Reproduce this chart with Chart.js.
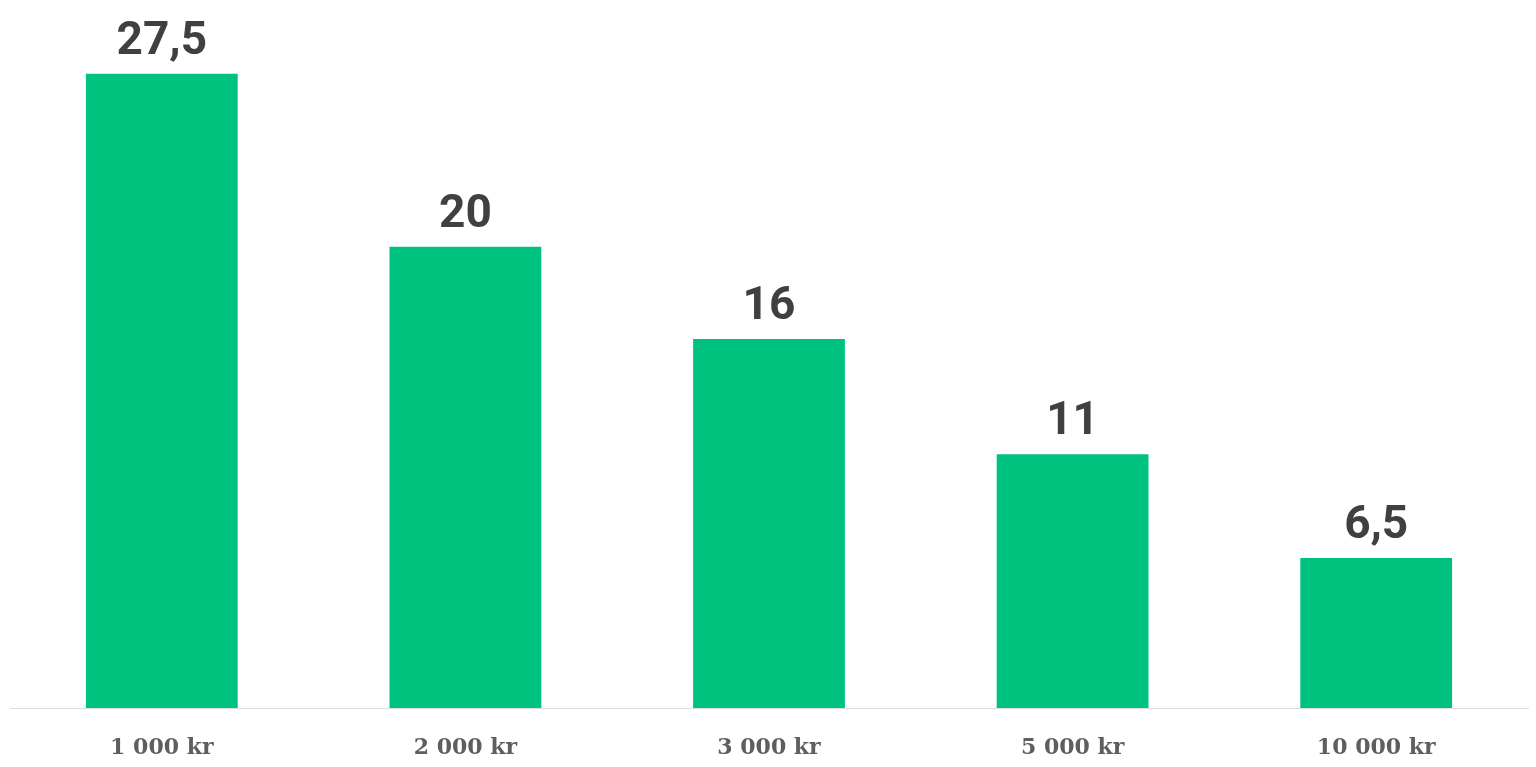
<!DOCTYPE html>
<html>
<head>
<meta charset="utf-8">
<script src="https://cdn.jsdelivr.net/npm/chart.js@4/dist/chart.umd.min.js"></script>
<style>
  html, body { margin: 0; padding: 0; background: #fff; }
  #wrap { width: 1536px; height: 767px; position: relative; }
</style>
</head>
<body>
<div id="wrap"><canvas id="barChart"></canvas></div>
<script>
const categories = ['1 000 kr', '2 000 kr', '3 000 kr', '5 000 kr', '10 000 kr'];
const values = [27.5, 20, 16, 11, 6.5];

// Draws the value above each bar, with a comma as decimal mark
const valueLabels = {
    id: 'valueLabels',
    afterDatasetsDraw(chart) {
        const ctx = chart.ctx;
        const meta = chart.getDatasetMeta(0);
        ctx.save();
        ctx.font = 'bold 46px Roboto';
        ctx.fillStyle = '#404040';
        ctx.textAlign = 'center';
        ctx.textBaseline = 'alphabetic';
        meta.data.forEach((bar, i) => {
            const txt = String(values[i]).replace('.', ',');
            ctx.fillText(txt, bar.x, bar.y - 20);
        });
        ctx.restore();
    }
};

const ctx = document.getElementById('barChart').getContext('2d');
new Chart(ctx, {
    type: 'bar',
    data: {
        labels: categories,
        datasets: [{
            data: values,
            backgroundColor: '#00c27f',
            barPercentage: 0.5,
            categoryPercentage: 1.0
        }]
    },
    options: {
        responsive: true,
        maintainAspectRatio: false,
        animation: false,
        layout: { padding: { left: 10, right: 8, top: 16, bottom: 0 } },
        plugins: {
            legend: { display: false },
            tooltip: { enabled: false }
        },
        scales: {
            y: { display: false, min: 0, max: 30 },
            x: {
                grid: { display: false },
                border: { display: true, color: '#dcdcdc', width: 1 },
                afterFit(scale) { scale.height = 59; },
                ticks: {
                    color: '#5e5e5e',
                    padding: 19,
                    font: { family: 'DejaVu Serif', size: 22, weight: 'bold' }
                }
            }
        }
    },
    plugins: [valueLabels]
});
</script>
</body>
</html>
